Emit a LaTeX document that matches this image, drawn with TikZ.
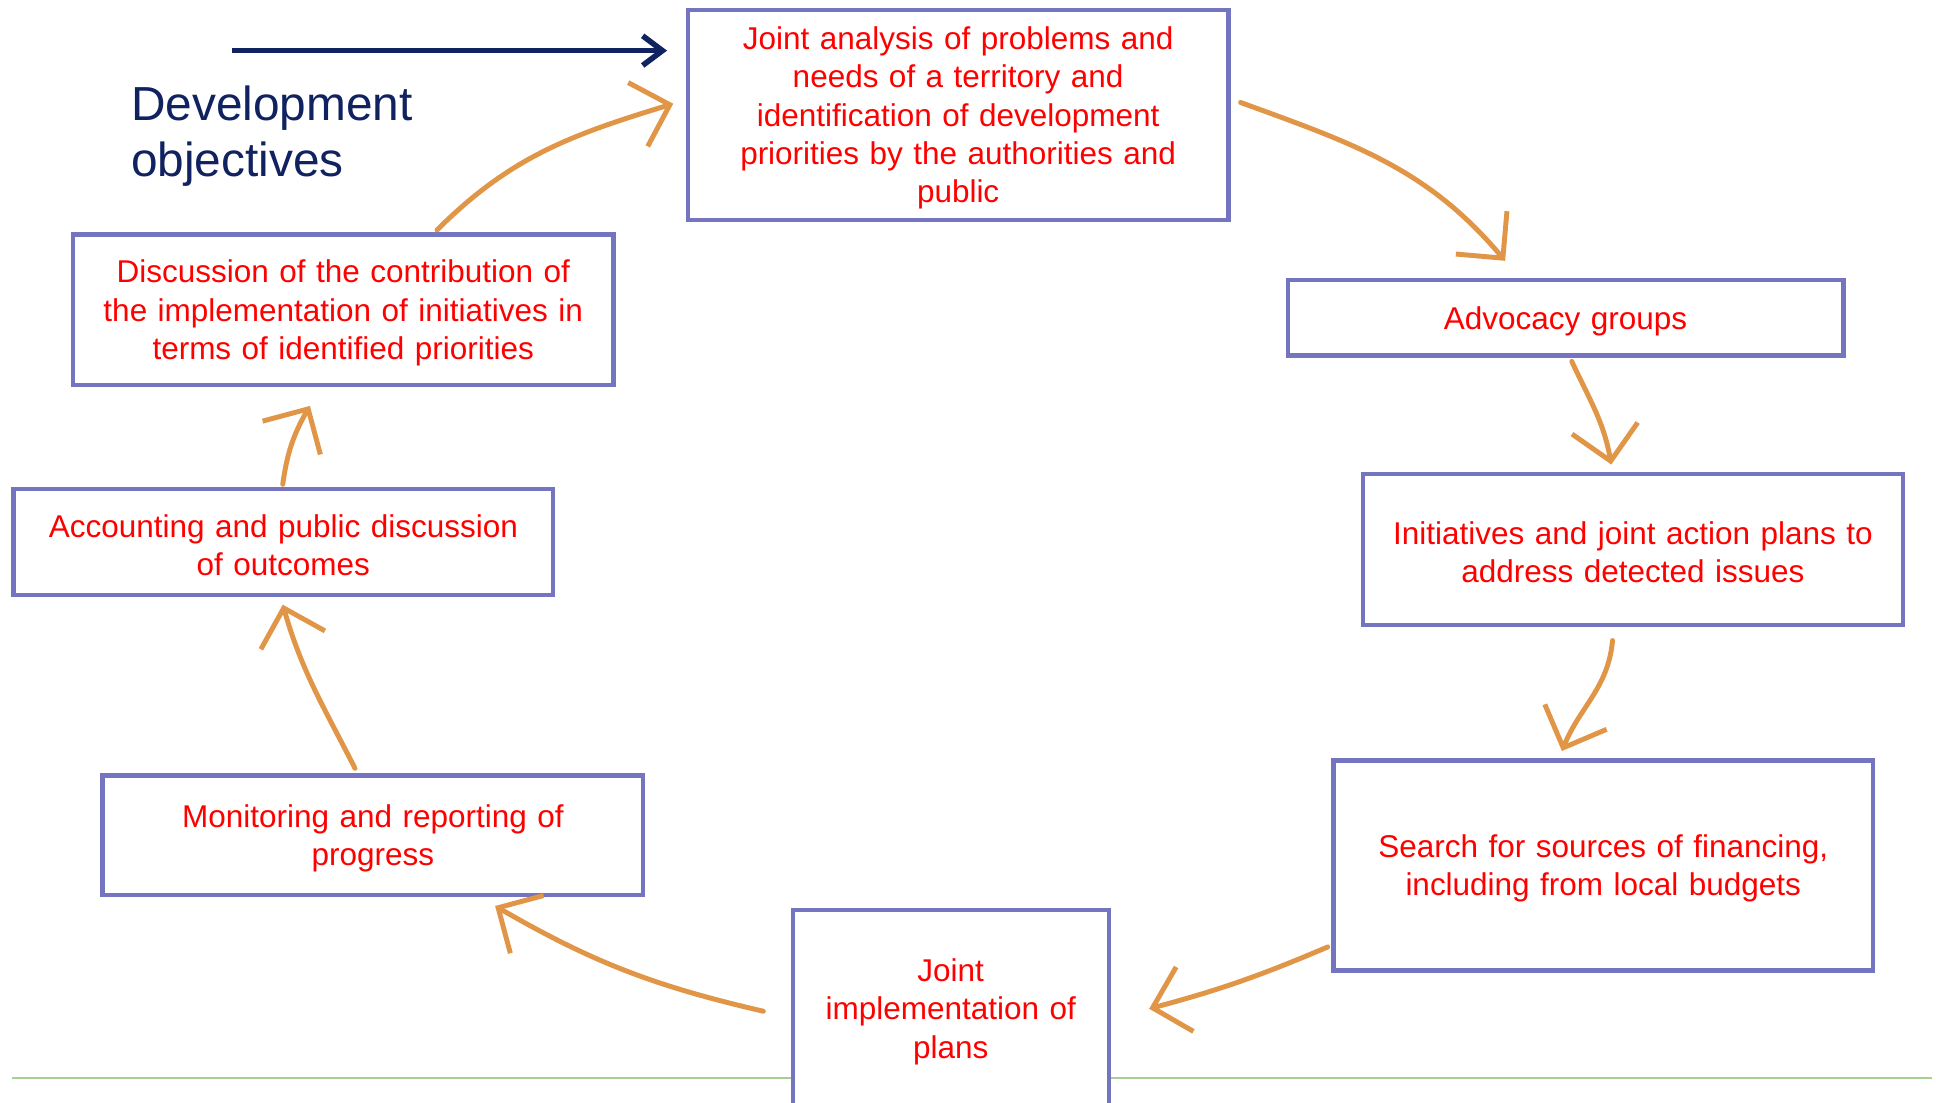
\documentclass[tikz,border=0pt]{standalone}
\usepackage{fontspec}
\setmainfont{Liberation Sans}
\usetikzlibrary{arrows.meta}
\definecolor{boxblue}{RGB}{116,116,192}
\definecolor{txtred}{RGB}{255,0,0}
\definecolor{arrorange}{RGB}{224,150,70}
\definecolor{navy}{RGB}{16,34,96}
\definecolor{linegreen}{RGB}{165,208,145}
\tikzset{
  stagebox/.style={draw=boxblue, line width=3.5pt, fill=white, text=txtred,
    inner sep=0pt, align=center,
    font=\fontsize{25.5pt}{31pt}\selectfont,
    execute at begin node={\rule{0pt}{23.5pt}}},
  cyclearrow/.style={draw=arrorange, line width=4pt, line cap=round, line join=round,
    -{Straight Barb[length=27pt,width=54pt,line width=4pt]}},
  navyarrow/.style={draw=navy, line width=4.5pt,
    -{Straight Barb[length=16pt,width=24pt,line width=4.5pt]}},
}
\begin{document}
\begin{tikzpicture}[x=1pt,y=1pt]
\path[use as bounding box, fill=white] (0,0) rectangle (1568,-893);

% green base line
\draw[linegreen, line width=2.2pt] (10,-873) -- (1565,-873);

% boxes
\node[stagebox, text width=438pt, minimum height=170pt] (b1) at (776,-93)
  {Joint analysis of problems and\\ needs of a territory and\\ identification of development\\ priorities by the authorities and\\ public};
\node[stagebox, text width=450pt, minimum height=61pt] (b2) at (1268,-257.5)
  {Advocacy groups};
\node[stagebox, text width=437pt, minimum height=122pt] (b3) at (1322.5,-445)
  {Initiatives and joint action plans to\\ address detected issues};
\node[stagebox, text width=437pt, minimum height=170pt] (b4) at (1298.5,-701)
  {Search for sources of financing,\\ including from local budgets};
\node[stagebox, text width=256pt, minimum height=160pt] (b5) at (770,-817)
  {Joint\\ implementation of\\ plans};
\node[stagebox, text width=438pt, minimum height=97pt] (b6) at (302,-676.5)
  {Monitoring and reporting of\\ progress};
\node[stagebox, text width=437pt, minimum height=86pt] (b7) at (229.5,-439)
  {Accounting and public discussion\\ of outcomes};
\node[stagebox, text width=438pt, minimum height=122pt] (b8) at (278,-251)
  {Discussion of the contribution of\\ the implementation of initiatives in\\ terms of identified priorities};

% title
\node[anchor=north west, inner sep=0pt, align=left, text=navy,
  font=\fontsize{38.7pt}{46pt}\selectfont] (title) at (106,-69)
  {Development\\ objectives};
\coordinate (navstart) at (188,-41);
\draw[navyarrow] (navstart) -- ([xshift=-15pt,yshift=52pt]b1.west);

% cycle arrows
\draw[cyclearrow] ([xshift=76pt,yshift=2pt]b8.north) to[out=45,in=197] ([xshift=-10pt,yshift=9pt]b1.west);
\draw[cyclearrow] ([xshift=8pt,yshift=10pt]b1.east) to[out=-20,in=130] ([xshift=-49pt,yshift=14pt]b2.north);
\draw[cyclearrow] ([xshift=5pt,yshift=-3pt]b2.south) to[out=-65,in=100] ([xshift=-17.5pt,yshift=6pt]b3.north);
\draw[cyclearrow] ([xshift=-16.5pt,yshift=-11pt]b3.south) to[out=-95,in=68] ([xshift=-33.5pt,yshift=6pt]b4.north);
\draw[cyclearrow] ([xshift=-3pt,yshift=-66pt]b4.west) to[out=203,in=15] ([xshift=31pt,yshift=0pt]b5.east);
\draw[cyclearrow] ([xshift=-22pt,yshift=-2pt]b5.west) to[out=167,in=-30] ([xshift=99pt,yshift=-7pt]b6.south);
\draw[cyclearrow] ([xshift=-14.5pt,yshift=4pt]b6.north) to[out=117,in=-74] ([xshift=-0.5pt,yshift=-6pt]b7.south);
\draw[cyclearrow] ([xshift=-0.5pt,yshift=2pt]b7.north) to[out=82,in=240] ([xshift=-27pt,yshift=-15pt]b8.south);
\end{tikzpicture}
\end{document}
